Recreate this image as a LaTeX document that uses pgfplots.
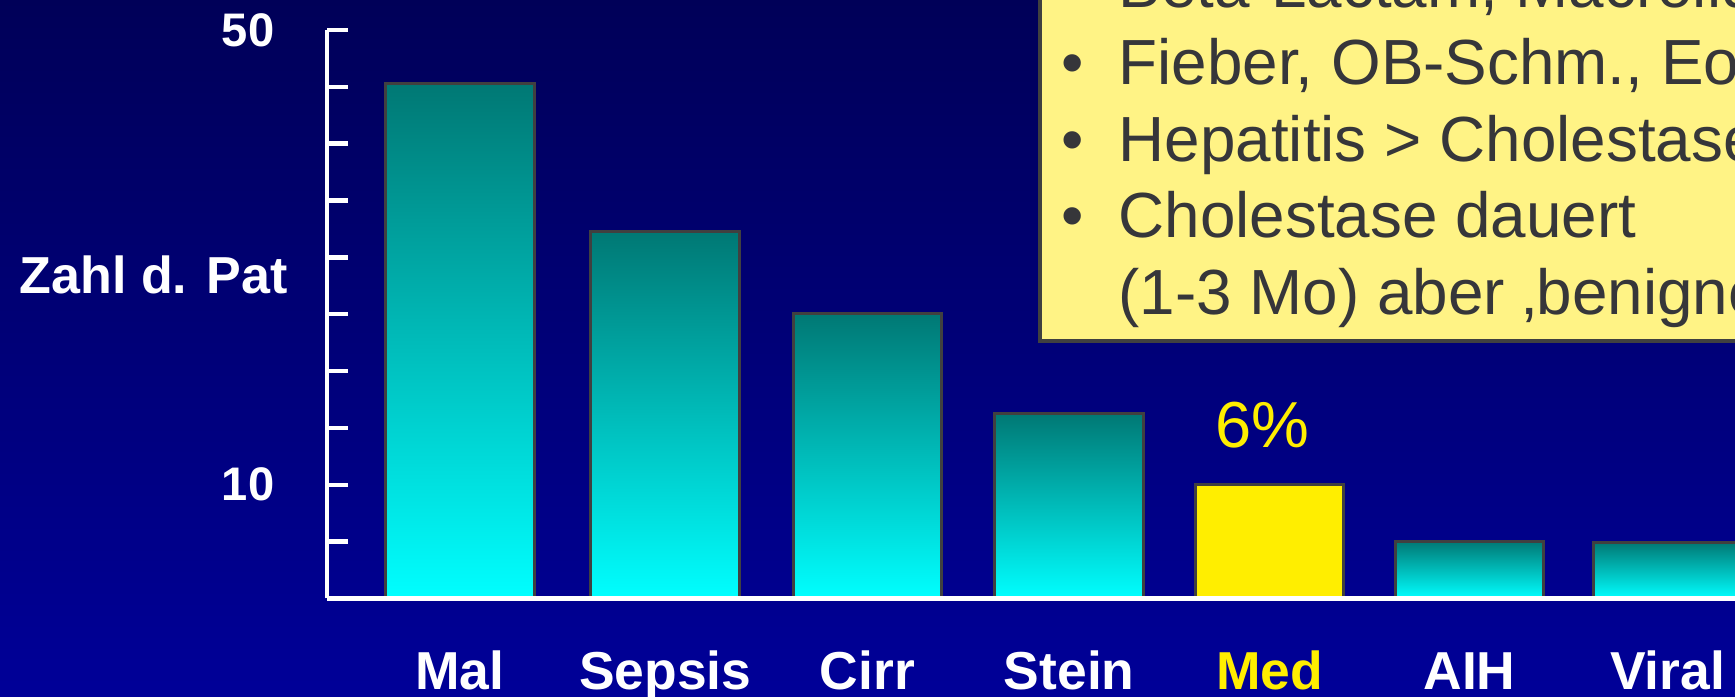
\documentclass[border=0pt]{standalone}
\usepackage{pgfplots}
\pgfplotsset{compat=1.18}
\usepackage{fontspec}
\setmainfont{Liberation Sans}
\definecolor{bgtop}{HTML}{000058}
\definecolor{bgbot}{HTML}{000098}
\definecolor{barTop}{HTML}{007874}
\definecolor{barBot}{HTML}{00FFFF}
\definecolor{medY}{HTML}{FFEE00}
\definecolor{boxY}{HTML}{FFF385}
\definecolor{boxTxt}{HTML}{36363A}
\definecolor{edge}{HTML}{404040}
\pgfplotsset{tealbar/.style={bar shift=0pt, draw=edge, line width=0.3mm, top color=barTop, bottom color=barBot}}
\begin{document}
\begin{tikzpicture}
\useasboundingbox (0,0) rectangle (173.5mm,69.7mm);
\clip (0,0) rectangle (173.5mm,69.7mm);
\shade[top color=bgtop, bottom color=bgbot] (0,0) rectangle (173.5mm,69.7mm);
\begin{axis}[
  at={(32.7mm,9.85mm)}, anchor=south west,
  scale only axis, width=140.8mm, height=56.85mm,
  xmin=-0.6605, xmax=6.335, ymin=0, ymax=50,
  axis x line=bottom, axis y line=left,
  axis line style={-, draw=white, line width=0.45mm},
  ybar, bar width=14.85mm,
  xtick={0,1.02,2.024,3.027,4.022,5.016,6.0},
  xticklabels={Mal,Sepsis,Cirr,Stein,\textcolor{medY}{Med},AIH,Viral},
  major x tick style={draw=none},
  xticklabel style={anchor=base, yshift=-9.15mm, text=white, font=\bfseries\fontsize{15.2}{18}\selectfont},
  ytick={5,10,...,50},
  yticklabels={{},10,{},{},{},{},{},{},{},50},
  yticklabel style={anchor=east, inner sep=0pt, xshift=-5.2mm, text=white, font=\bfseries\fontsize{13.4}{15}\selectfont},
  major y tick style={draw=white, line width=0.45mm},
  tick align=inside, major tick length=2.1mm,
  axis on top,
]
\addplot[tealbar] coordinates {(0,45.3)};
\addplot[tealbar] coordinates {(1.02,32.3)};
\addplot[tealbar] coordinates {(2.024,25.1)};
\addplot[tealbar] coordinates {(3.027,16.3)};
\addplot[bar shift=0pt, draw=edge, line width=0.3mm, fill=medY] coordinates {(4.022,10)};
\addplot[tealbar] coordinates {(5.016,5.05)};
\addplot[tealbar] coordinates {(6.0,4.95)};
\node[anchor=base, text=medY, inner sep=0pt, font=\fontsize{18.5}{22}\selectfont] at (axis cs:3.985,13.3) {6\%};
\end{axis}
\draw[fill=boxY, draw=edge, line width=0.4mm] (104.0mm,35.6mm) rectangle (185mm,80mm);
\begin{scope}[every node/.style={inner sep=0pt, text=boxTxt, font=\fontsize{18.15}{22}\selectfont}]
\node[anchor=base west] at (111.8mm,68.9mm) {Beta-Lactam, Macrolide, …};
\node[anchor=base west] at (111.8mm,61.2mm) {Fieber, OB-Schm., Eosinophilie};
\node[anchor=base west] at (111.8mm,53.5mm) {Hepatitis > Cholestase};
\node[anchor=base west] at (111.8mm,45.9mm) {Cholestase dauert};
\node[anchor=base west] at (111.8mm,38.2mm) {(1-3 Mo) aber ‚benigne‘};
\node[anchor=base] at (107.3mm,61.2mm) {•};
\node[anchor=base] at (107.3mm,53.5mm) {•};
\node[anchor=base] at (107.3mm,45.9mm) {•};
\end{scope}
\node[anchor=base west, inner sep=0pt, text=white, font=\bfseries\fontsize{14.8}{18}\selectfont] at (1.9mm,40.3mm) {Zahl d. Pat};
\end{tikzpicture}
\end{document}
